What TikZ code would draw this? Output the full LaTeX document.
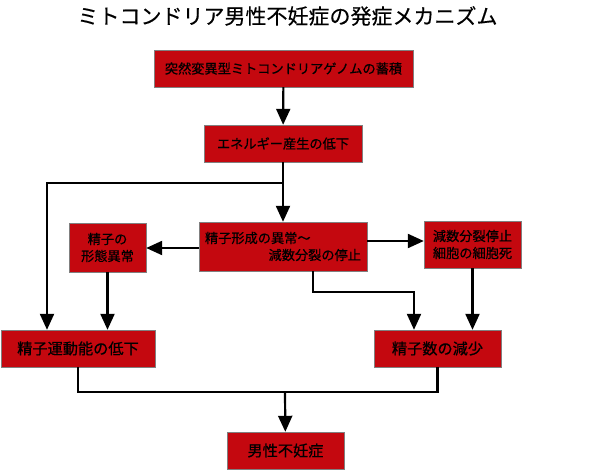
\documentclass[tikz,border=0pt]{standalone}
\usepackage{fontspec}
\setmainfont{Noto Sans CJK JP}
\newfontfamily\boxfont[FakeBold=0.6]{Noto Sans CJK JP}
\newfontfamily\titlefont[FakeBold=0.4]{Noto Sans CJK JP}
\usetikzlibrary{arrows.meta}
\definecolor{boxred}{HTML}{C4080F}
\begin{document}
\begin{tikzpicture}[x=1pt, y=-1pt,
    box/.style={draw=gray, fill=boxred, inner sep=2pt, align=center,
        font=\boxfont\fontsize{13.2}{17}\selectfont},
    bigbox/.style={box, font=\boxfont\fontsize{15.2}{18}\selectfont},
    arr/.style={line width=2.2pt, -{Triangle[length=16pt,width=14pt]}},
    ln/.style={line width=2.2pt}]
        \useasboundingbox (0,0) rectangle (590,471);
        \node[font=\titlefont\fontsize{21}{24}\selectfont] (title) at (287.5,16) {ミトコンドリア男性不妊症の発症メカニズム};

        \node[box, minimum width=259pt, minimum height=37pt] (mutant) at (283.5,68.5) {突然変異型ミトコンドリアゲノムの蓄積};
        \node[box, minimum width=158pt, minimum height=37pt] (energy) at (283,143.5) {エネルギー産生の低下};
        \node[box, minimum width=168pt, minimum height=49pt, text width=156pt, align=left] (formation) at (283,246.5) {精子形成の異常～\\\hspace*{\fill}減数分裂の停止};
        \node[box, minimum width=77pt, minimum height=49pt] (morph) at (107.5,247.5) {精子の\\形態異常};
        \node[box, minimum width=97pt, minimum height=47pt] (apoptosis) at (472.5,244.5) {減数分裂停止\\細胞の細胞死};
        \node[bigbox, minimum width=154pt, minimum height=37pt] (motility) at (78,348.5) {精子運動能の低下};
        \node[bigbox, minimum width=127pt, minimum height=37pt] (count) at (437.5,348.5) {精子数の減少};
        \node[bigbox, minimum width=117pt, minimum height=37pt] (infert) at (285.5,450.5) {男性不妊症};

        \coordinate (split) at (283,183);
        \coordinate (merge) at (285,392);

        \draw[arr] (mutant) -- (energy);
        \draw[ln] (energy) -- (split);
        \draw[arr] (split) -- (formation);
        \draw[arr] (split) -| ([xshift=-31pt]motility.north);
        \draw[arr] ([yshift=-1.5pt]formation.west) -- ([yshift=-0.5pt]morph.east);
        \draw[arr] ([yshift=5.5pt]formation.east) -- ([yshift=3.5pt]apoptosis.west);
        \draw[arr] ([xshift=30pt]formation.south) -- ++(0,21) -| ([xshift=-23.5pt]count.north);
        \draw[arr] (morph) -- (morph.south |- motility.north);
        \draw[arr] (apoptosis) -- (apoptosis.south |- count.north);
        \draw[ln] (motility.south) |- (merge) -| (count.south);
        \draw[arr] (merge) -- (infert);
    \end{tikzpicture}
\end{document}
